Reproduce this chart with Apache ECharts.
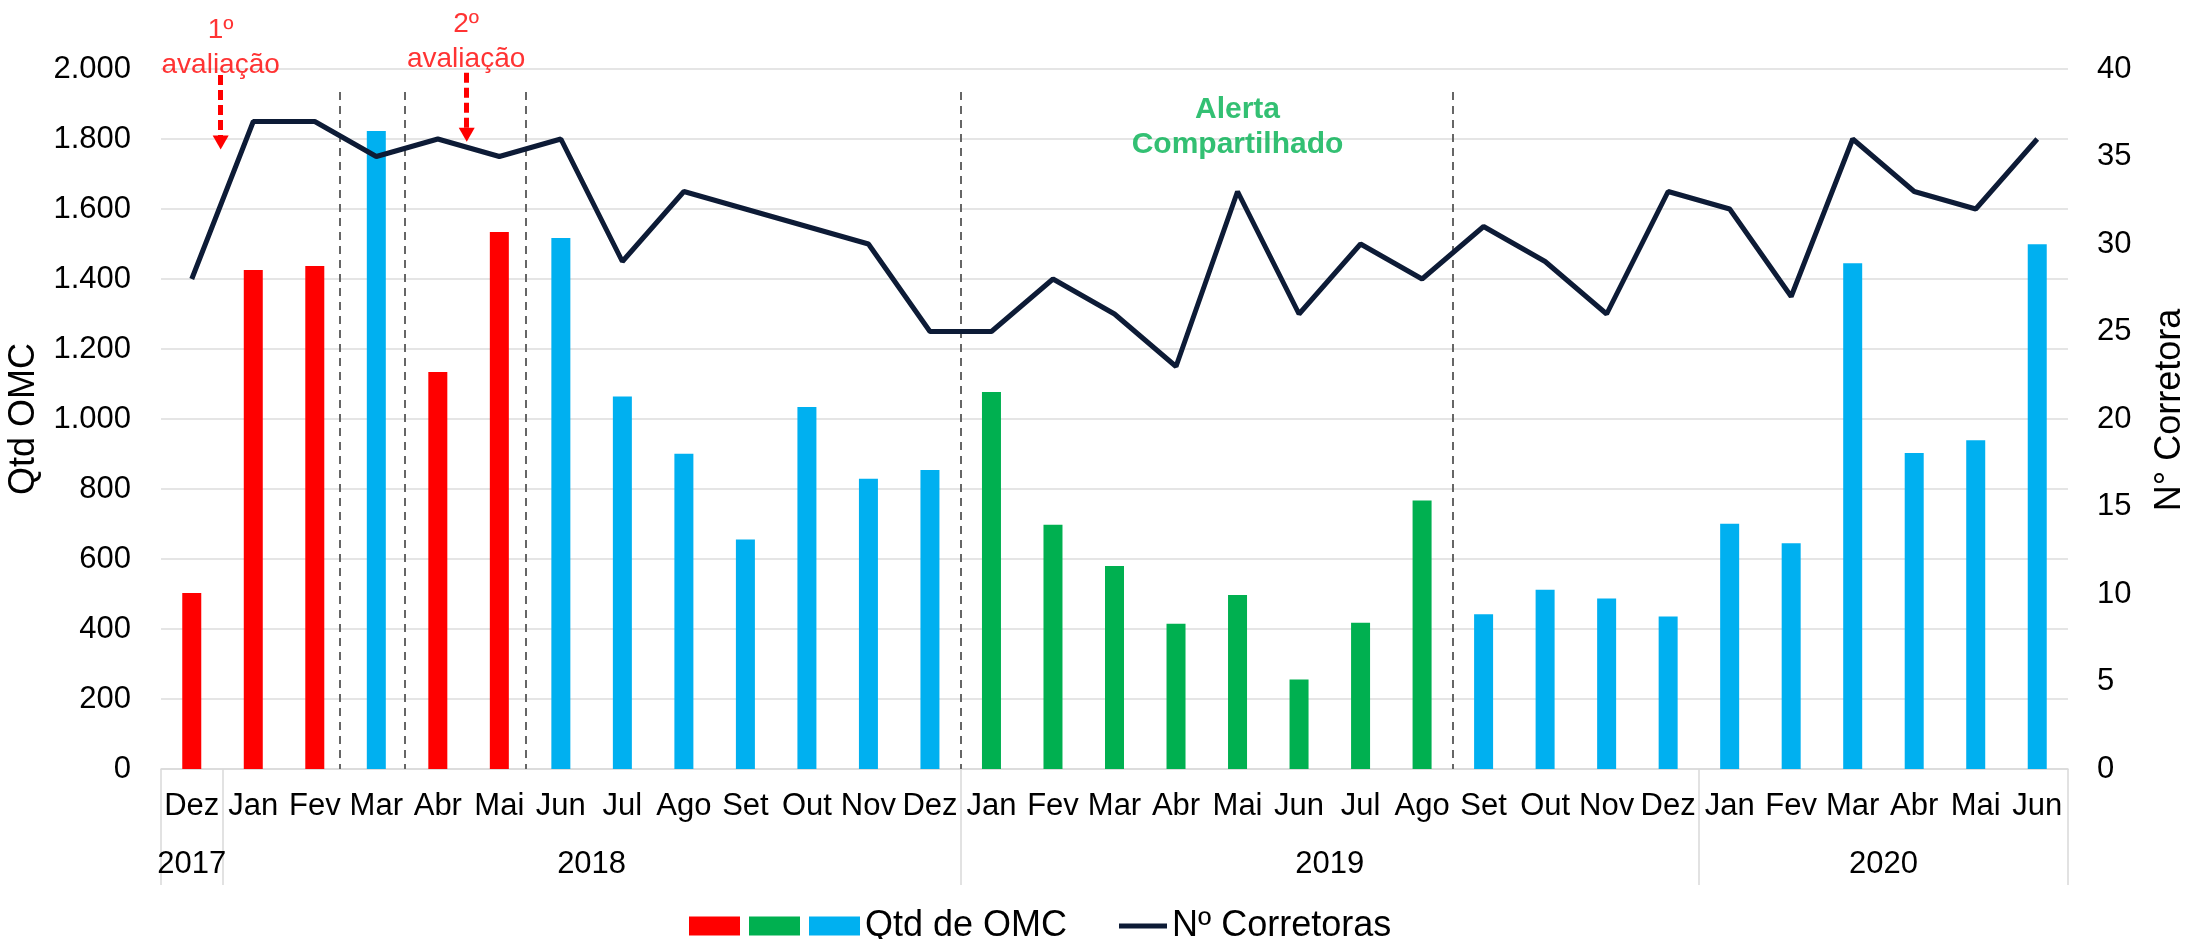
<!DOCTYPE html>
<html>
<head>
<meta charset="utf-8">
<script src="https://cdn.jsdelivr.net/npm/echarts@6/dist/echarts.min.js"></script>
<style>
  html, body { margin: 0; padding: 0; background: #fff; }
  #main { width: 2185px; height: 939px; }
</style>
</head>
<body>
<div id="main"></div>
<script>
// meses (Dez/2017 a Jun/2020)
const months = ['Dez', 'Jan', 'Fev', 'Mar', 'Abr', 'Mai', 'Jun', 'Jul', 'Ago', 'Set', 'Out', 'Nov', 'Dez',
  'Jan', 'Fev', 'Mar', 'Abr', 'Mai', 'Jun', 'Jul', 'Ago', 'Set', 'Out', 'Nov', 'Dez',
  'Jan', 'Fev', 'Mar', 'Abr', 'Mai', 'Jun'];
const yearNames = ['2017', '2018', '2019', '2020'];
const yearSpans = [1, 12, 12, 6];

// Qtd de OMC por mes
const omc = [503, 1426, 1437, 1823, 1134, 1534, 1517, 1064, 901, 656, 1034, 829, 854,
  1077, 698, 580, 415, 497, 256, 418, 767, 442, 512, 487, 436,
  701, 645, 1445, 903, 939, 1499];
// R = avaliacao, G = alerta compartilhado, B = demais
const omcGroup = ['R', 'R', 'R', 'B', 'R', 'R', 'B', 'B', 'B', 'B', 'B', 'B', 'B',
  'G', 'G', 'G', 'G', 'G', 'G', 'G', 'G', 'B', 'B', 'B', 'B',
  'B', 'B', 'B', 'B', 'B', 'B'];
// No de corretoras
const corretoras = [28, 37, 37, 35, 36, 35, 36, 29, 33, 32, 31, 30, 25,
  25, 28, 26, 23, 33, 26, 30, 28, 31, 29, 26, 33,
  32, 27, 36, 33, 32, 36];

const leftTicks = { min: 0, max: 2000, interval: 200 };
const rightTicks = { min: 0, max: 40, interval: 5 };

// anotacoes (x em unidades de mes, y na escala de OMC)
const separators = [2.9, 3.97, 5.93, 13, 21];
const separatorTop = 1934;
const arrows = [[0.97, 1983, 1790], [4.97, 1989, 1812]];
const notes = [
  [0.97, 2061, '1º\navaliação', '#FF0000', 'normal', 28],
  [4.96, 2079, '2º\navaliação', '#FF0000', 'normal', 28],
  [17.5, 1833, 'Alerta\nCompartilhado', '#00B050', 'bold', 30]
];

const colors = { R: '#FF0000', G: '#00B050', B: '#00B0F0' };
const FONT = '"Liberation Sans", Arial, sans-serif';

// limites e centros dos anos
const yearBounds = [0];
const yearCenters = [];
yearSpans.forEach(function (n, i) {
  yearCenters.push(yearBounds[i] + n / 2);
  yearBounds.push(yearBounds[i] + n);
});
const categories = months.map(function (m, i) { return m + '-' + i; });

function fmtThousand(v) {
  if (v < 1000) return String(v);
  return Math.floor(v / 1000) + '.' + String(v % 1000).padStart(3, '0');
}

function barSeries(name, key) {
  return {
    name: name,
    type: 'bar',
    barWidth: 19,
    barGap: '-100%',
    itemStyle: { color: colors[key] },
    data: omc.map(function (v, i) { return omcGroup[i] === key ? v : null; })
  };
}

var myChart = echarts.init(document.getElementById('main'));
myChart.setOption({
  animation: false,
  textStyle: { fontFamily: FONT },
  grid: { left: 161, right: 117, top: 69, bottom: 170, outerBoundsMode: 'none' },
  legend: [{
    left: 684, top: 903,
    itemWidth: 51, itemHeight: 19, itemGap: 9,
    icon: 'rect',
    data: ['omcRed', 'omcGreen', 'Qtd de OMC'],
    formatter: function (n) { return n === 'Qtd de OMC' ? n : ''; },
    textStyle: { fontSize: 36, color: '#000', fontFamily: FONT }
  }, {
    left: 1114, top: 903,
    itemWidth: 48, itemHeight: 5,
    icon: 'rect',
    data: ['Nº Corretoras'],
    textStyle: { fontSize: 36, color: '#000', fontFamily: FONT }
  }],
  xAxis: [{
    type: 'category',
    data: categories,
    axisLine: { lineStyle: { color: '#D9D9D9', width: 1.5 } },
    axisTick: { show: false },
    axisLabel: {
      interval: 0, margin: 22, fontSize: 31, color: '#000',
      formatter: function (v) { return v.split('-')[0]; }
    }
  }, {
    type: 'value',
    min: 0, max: 31,
    position: 'bottom',
    axisLine: { show: false },
    splitLine: { show: false },
    axisTick: {
      show: true, customValues: yearBounds, length: 116,
      lineStyle: { color: '#D9D9D9', width: 1.5 }
    },
    axisLabel: {
      customValues: yearCenters, margin: 80, fontSize: 31, color: '#000',
      formatter: function (v) {
        const k = yearCenters.indexOf(v);
        return k >= 0 ? yearNames[k] : '';
      }
    }
  }],
  yAxis: [{
    type: 'value',
    min: leftTicks.min, max: leftTicks.max, interval: leftTicks.interval,
    name: 'Qtd OMC', nameLocation: 'middle', nameGap: 108, nameRotate: 90,
    nameTextStyle: { fontSize: 36, color: '#000' },
    axisLine: { show: false },
    axisTick: { show: false },
    axisLabel: { fontSize: 31, color: '#000', margin: 30, formatter: fmtThousand },
    splitLine: { lineStyle: { color: '#DDDDDD', width: 1.5 } }
  }, {
    type: 'value',
    min: rightTicks.min, max: rightTicks.max, interval: rightTicks.interval,
    name: 'N° Corretora', nameLocation: 'middle', nameGap: 84, nameRotate: 90,
    nameTextStyle: { fontSize: 36, color: '#000', padding: [0, 0, 0, 18] },
    axisLine: { show: false },
    axisTick: { show: false },
    axisLabel: { fontSize: 31, color: '#000', margin: 29 },
    splitLine: { show: false }
  }],
  series: [
    barSeries('omcRed', 'R'),
    barSeries('omcGreen', 'G'),
    barSeries('Qtd de OMC', 'B'),
    {
      name: 'Nº Corretoras',
      type: 'line',
      yAxisIndex: 1,
      symbol: 'none',
      z: 5,
      lineStyle: { color: '#0D1B36', width: 5 },
      itemStyle: { color: '#0D1B36' },
      data: corretoras
    },
    {
      // linhas tracejadas de separacao
      type: 'scatter',
      xAxisIndex: 1,
      data: [],
      silent: true,
      markLine: {
        silent: true,
        symbol: 'none',
        label: { show: false },
        lineStyle: { color: '#666666', width: 2, type: [8, 6] },
        data: separators.map(function (x) {
          return [{ coord: [x, separatorTop] }, { coord: [x, 0] }];
        })
      }
    },
    {
      // setas e textos das anotacoes
      type: 'scatter',
      xAxisIndex: 1,
      clip: false,
      silent: true,
      symbolSize: 0,
      z: 6,
      data: notes.map(function (n) {
        return {
          value: [n[0], n[1]],
          label: {
            show: true, position: 'inside', formatter: n[2],
            color: n[3], fontWeight: n[4], fontSize: n[5], lineHeight: 35, fontFamily: FONT
          }
        };
      }),
      markLine: {
        silent: true,
        symbol: ['none', 'triangle'],
        symbolSize: [16, 14],
        label: { show: false },
        lineStyle: { color: '#FF0000', width: 5, type: [10, 5] },
        data: arrows.map(function (a) {
          return [{ coord: [a[0], a[1]] }, { coord: [a[0], a[2]] }];
        })
      }
    }
  ]
});
</script>
</body>
</html>
